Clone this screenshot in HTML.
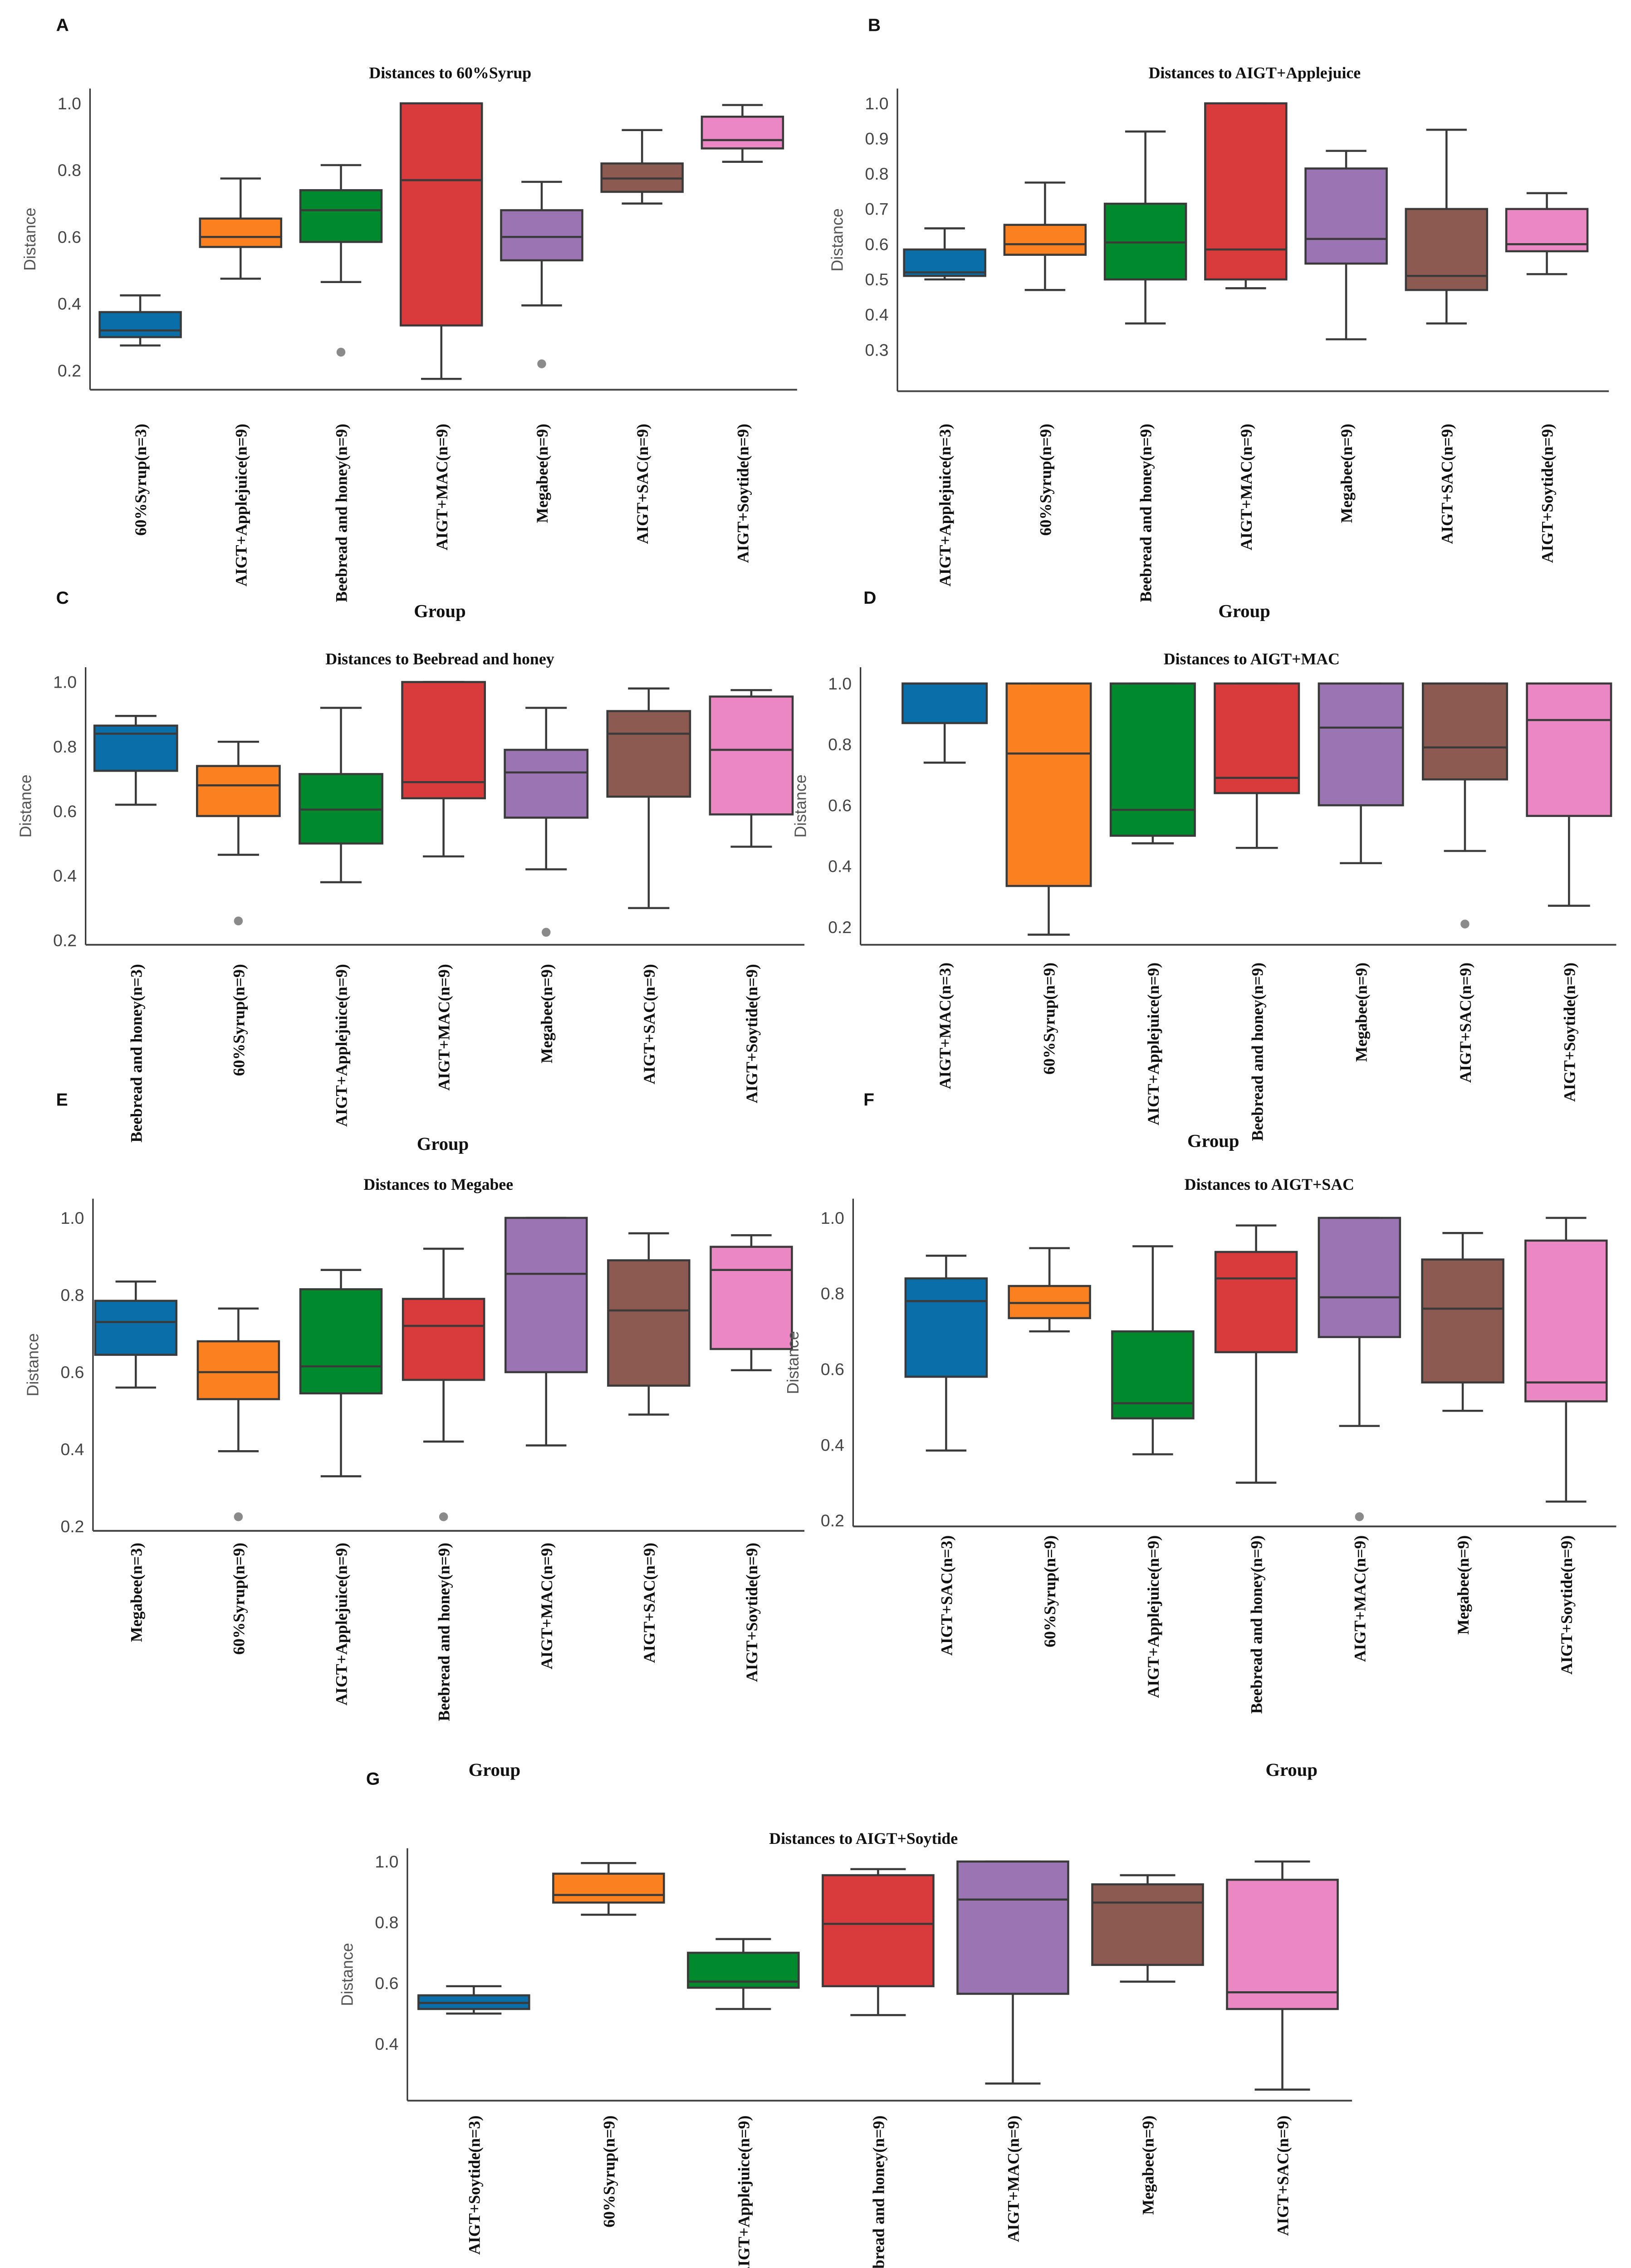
<!DOCTYPE html>
<html><head><meta charset="utf-8">
<style>
html,body{margin:0;padding:0;background:#fff;width:3595px;height:5103px;overflow:hidden;}
svg{display:block;overflow:hidden;}
.tick{font-family:"Liberation Sans",sans-serif;font-size:11.5px;fill:#444;}
.ttl{font-family:"Liberation Serif",serif;font-size:11px;font-weight:bold;fill:#111;}
.cat{font-family:"Liberation Serif",serif;font-size:11px;font-weight:bold;fill:#111;}
.grp{font-family:"Liberation Serif",serif;font-size:12.5px;font-weight:bold;fill:#111;}
.ylab{font-family:"Liberation Sans",sans-serif;font-size:11px;fill:#555;}
.let{font-family:"Liberation Sans",sans-serif;font-size:12px;font-weight:bold;fill:#111;}
</style></head>
<body>
<svg id="fig" width="3595" height="5103" viewBox="0 0 1105 1568" preserveAspectRatio="none" xmlns="http://www.w3.org/2000/svg"></svg>
<script>
// ---------- data ----------
const catsA = ["60%Syrup(n=3)","AIGT+Applejuice(n=9)","Beebread and honey(n=9)","AIGT+MAC(n=9)","Megabee(n=9)","AIGT+SAC(n=9)","AIGT+Soytide(n=9)"];
const lowA  = [0.275,0.475,0.465,0.175,0.395,0.70,0.825];
const q1A   = [0.30,0.57,0.585,0.335,0.53,0.735,0.865];
const medA  = [0.32,0.60,0.68,0.77,0.60,0.775,0.89];
const q3A   = [0.375,0.655,0.74,1.0,0.68,0.82,0.96];
const highA = [0.425,0.775,0.815,1.0,0.765,0.92,0.995];
const outA  = [[],[],[0.255],[],[0.22],[],[]];
const ticksA = [0.2,0.4,0.6,0.8,1.0];

const catsB = ["AIGT+Applejuice(n=3)","60%Syrup(n=9)","Beebread and honey(n=9)","AIGT+MAC(n=9)","Megabee(n=9)","AIGT+SAC(n=9)","AIGT+Soytide(n=9)"];
const lowB  = [0.50,0.47,0.375,0.475,0.33,0.375,0.515];
const q1B   = [0.51,0.57,0.50,0.50,0.545,0.47,0.58];
const medB  = [0.52,0.60,0.605,0.585,0.615,0.51,0.60];
const q3B   = [0.585,0.655,0.715,1.0,0.815,0.70,0.70];
const highB = [0.645,0.775,0.92,1.0,0.865,0.925,0.745];
const outB  = [[],[],[],[],[],[],[]];
const ticksB = [0.3,0.4,0.5,0.6,0.7,0.8,0.9,1.0];

const catsC = ["Beebread and honey(n=3)","60%Syrup(n=9)","AIGT+Applejuice(n=9)","AIGT+MAC(n=9)","Megabee(n=9)","AIGT+SAC(n=9)","AIGT+Soytide(n=9)"];
const lowC  = [0.62,0.465,0.38,0.46,0.42,0.30,0.49];
const q1C   = [0.725,0.585,0.50,0.64,0.58,0.645,0.59];
const medC  = [0.84,0.68,0.605,0.69,0.72,0.84,0.79];
const q3C   = [0.865,0.74,0.715,1.0,0.79,0.91,0.955];
const highC = [0.895,0.815,0.92,1.0,0.92,0.98,0.975];
const outC  = [[],[0.26],[],[],[0.225],[],[]];
const ticksC = [0.2,0.4,0.6,0.8,1.0];

const catsD = ["AIGT+MAC(n=3)","60%Syrup(n=9)","AIGT+Applejuice(n=9)","Beebread and honey(n=9)","Megabee(n=9)","AIGT+SAC(n=9)","AIGT+Soytide(n=9)"];
const lowD  = [0.74,0.175,0.475,0.46,0.41,0.45,0.27];
const q1D   = [0.87,0.335,0.50,0.64,0.60,0.685,0.565];
const medD  = [1.0,0.77,0.585,0.69,0.855,0.79,0.88];
const q3D   = [1.0,1.0,1.0,1.0,1.0,1.0,1.0];
const highD = [1.0,1.0,1.0,1.0,1.0,1.0,1.0];
const outD  = [[],[],[],[],[],[0.21],[]];
const ticksD = [0.2,0.4,0.6,0.8,1.0];

const catsE = ["Megabee(n=3)","60%Syrup(n=9)","AIGT+Applejuice(n=9)","Beebread and honey(n=9)","AIGT+MAC(n=9)","AIGT+SAC(n=9)","AIGT+Soytide(n=9)"];
const lowE  = [0.56,0.395,0.33,0.42,0.41,0.49,0.605];
const q1E   = [0.645,0.53,0.545,0.58,0.60,0.565,0.66];
const medE  = [0.73,0.60,0.615,0.72,0.855,0.76,0.865];
const q3E   = [0.785,0.68,0.815,0.79,1.0,0.89,0.925];
const highE = [0.835,0.765,0.865,0.92,1.0,0.96,0.955];
const outE  = [[],[0.225],[],[0.225],[],[],[]];
const ticksE = [0.2,0.4,0.6,0.8,1.0];

const catsF = ["AIGT+SAC(n=3)","60%Syrup(n=9)","AIGT+Applejuice(n=9)","Beebread and honey(n=9)","AIGT+MAC(n=9)","Megabee(n=9)","AIGT+Soytide(n=9)"];
const lowF  = [0.385,0.70,0.375,0.30,0.45,0.49,0.25];
const q1F   = [0.58,0.735,0.47,0.645,0.685,0.565,0.515];
const medF  = [0.78,0.775,0.51,0.84,0.79,0.76,0.565];
const q3F   = [0.84,0.82,0.70,0.91,1.0,0.89,0.94];
const highF = [0.90,0.92,0.925,0.98,1.0,0.96,1.0];
const outF  = [[],[],[],[],[0.21],[],[]];
const ticksF = [0.2,0.4,0.6,0.8,1.0];

const catsG = ["AIGT+Soytide(n=3)","60%Syrup(n=9)","AIGT+Applejuice(n=9)","Beebread and honey(n=9)","AIGT+MAC(n=9)","Megabee(n=9)","AIGT+SAC(n=9)"];
const lowG  = [0.50,0.825,0.515,0.495,0.27,0.605,0.25];
const q1G   = [0.515,0.865,0.585,0.59,0.565,0.66,0.515];
const medG  = [0.535,0.89,0.605,0.795,0.875,0.865,0.57];
const q3G   = [0.56,0.96,0.70,0.955,1.0,0.925,0.94];
const highG = [0.59,0.995,0.745,0.975,1.0,0.955,1.0];
const outG  = [[],[],[],[],[],[],[]];
const ticksG = [0.4,0.6,0.8,1.0];

const palette = ["#0a6ea8","#fb8120","#01892d","#d93a3c","#9b74b4","#8c5a50","#eb88c4"];

// ---------- layout (display units) ----------
const panels = [
 {id:"a",letter:"A",lx:38,ly:21,title:"Distances to 60%Syrup",tx:305,ty:53,left:61,right:540,top:60,axisY:264,v1:1.0,y1:70,v0:0.2,y0:251,x0:95,step:68,bw:55,labTop:287,gx:298,gy:418,
  cats:catsA,low:lowA,q1:q1A,med:medA,q3:q3A,high:highA,out:outA,ticks:ticksA,dec:1},
 {id:"b",letter:"B",lx:588,ly:21,title:"Distances to AIGT+Applejuice",tx:850,ty:53,left:608,right:1090,top:60,axisY:265,v1:1.0,y1:70,v0:0.3,y0:237,x0:640,step:68,bw:55,labTop:287,gx:843,gy:418,
  cats:catsB,low:lowB,q1:q1B,med:medB,q3:q3B,high:highB,out:outB,ticks:ticksB,dec:1},
 {id:"c",letter:"C",lx:38,ly:409,title:"Distances to Beebread and honey",tx:298,ty:450,left:58,right:545,top:452,axisY:640,v1:1.0,y1:462,v0:0.2,y0:637,x0:92,step:69.5,bw:56,labTop:653,gx:300,gy:779,
  cats:catsC,low:lowC,q1:q1C,med:medC,q3:q3C,high:highC,out:outC,ticks:ticksC,dec:1},
 {id:"d",letter:"D",lx:585,ly:409,title:"Distances to AIGT+MAC",tx:848,ty:450,left:583,right:1095,top:452,axisY:640,v1:1.0,y1:463,v0:0.2,y0:628,x0:640,step:70.5,bw:57,labTop:652,gx:822,gy:777,
  cats:catsD,low:lowD,q1:q1D,med:medD,q3:q3D,high:highD,out:outD,ticks:ticksD,dec:1},
 {id:"e",letter:"E",lx:38,ly:749,title:"Distances to Megabee",tx:297,ty:806,left:63,right:545,top:812,axisY:1037,v1:1.0,y1:825,v0:0.2,y0:1034,x0:92,step:69.5,bw:55,labTop:1045,gx:335,gy:1203,
  cats:catsE,low:lowE,q1:q1E,med:medE,q3:q3E,high:highE,out:outE,ticks:ticksE,dec:1},
 {id:"f",letter:"F",lx:585,ly:749,title:"Distances to AIGT+SAC",tx:860,ty:806,left:578,right:1095,top:812,axisY:1034,v1:1.0,y1:825,v0:0.2,y0:1030,x0:641,step:70,bw:55,labTop:1040,gx:875,gy:1203,
  cats:catsF,low:lowF,q1:q1F,med:medF,q3:q3F,high:highF,out:outF,ticks:ticksF,dec:1},
 {id:"g",letter:"G",lx:248,ly:1209,title:"Distances to AIGT+Soytide",tx:585,ty:1249,left:276,right:916,top:1252,axisY:1423,v1:1.0,y1:1261,v0:0.4,y0:1384.6,x0:321,step:91.3,bw:75,labTop:1433,gx:640,gy:1555,
  cats:catsG,low:lowG,q1:q1G,med:medG,q3:q3G,high:highG,out:outG,ticks:ticksG,dec:1}
];

const NS = "http://www.w3.org/2000/svg";
const svg = document.getElementById("fig");
function mk(tag, attrs, parent){
  const e = document.createElementNS(NS, tag);
  for (const k in attrs) e.setAttribute(k, attrs[k]);
  (parent||svg).appendChild(e);
  return e;
}

panels.forEach(p => {
  const g = mk("g", {});
  
  
  const yS = v => p.y0 + (v - p.v0) * (p.y1 - p.y0) / (p.v1 - p.v0);
  const xS = i => p.x0 + i * p.step;

  const L = mk("text", {x:p.lx, y:p.ly, class:"let"}, g);
  L.textContent = p.letter;
  
  

  const T = mk("text", {x:p.tx, y:p.ty, class:"ttl", "text-anchor":"middle"}, g);
  T.textContent = p.title;
  
  

  const ya = mk("line", {x1:p.left, y1:p.top, x2:p.left, y2:p.axisY, stroke:"#333", "stroke-width":1}, g);
  
  
  const xa = mk("line", {x1:p.left, y1:p.axisY, x2:p.right, y2:p.axisY, stroke:"#444", "stroke-width":1.2}, g);
  
  

  p.ticks.forEach(t => {
    const tl = mk("text", {x:p.left - 6, y:yS(t) + 4, class:"tick", "text-anchor":"end"}, g);
    tl.textContent = t.toFixed(p.dec);
    
    
  });

  const ylx = p.left - 37, yly = (p.top + p.axisY) / 2;
  const yl = mk("text", {x:ylx, y:yly, class:"ylab", "text-anchor":"middle", transform:"rotate(-90 " + ylx + " " + yly + ")"}, g);
  yl.textContent = "Distance";
  
  

  p.cats.forEach((c, i) => {
    const cx = xS(i), hw = p.bw / 2, cap = p.bw / 4;
    const col = palette[i];
    const bg = mk("g", {}, g);
    
    
    const st = {stroke:"#3a3a3a", "stroke-width":1.4};
    mk("line", Object.assign({x1:cx, y1:yS(p.high[i]), x2:cx, y2:yS(p.q3[i])}, st), bg);
    mk("line", Object.assign({x1:cx, y1:yS(p.q1[i]), x2:cx, y2:yS(p.low[i])}, st), bg);
    mk("line", Object.assign({x1:cx-cap, y1:yS(p.high[i]), x2:cx+cap, y2:yS(p.high[i])}, st), bg);
    mk("line", Object.assign({x1:cx-cap, y1:yS(p.low[i]), x2:cx+cap, y2:yS(p.low[i])}, st), bg);
    mk("rect", Object.assign({x:cx-hw, y:yS(p.q3[i]), width:p.bw, height:Math.max(0.5, yS(p.q1[i]) - yS(p.q3[i])), fill:col}, st), bg);
    mk("line", Object.assign({x1:cx-hw, y1:yS(p.med[i]), x2:cx+hw, y2:yS(p.med[i])}, st), bg);
    p.out[i].forEach(o => {
      const d = mk("circle", {cx:cx, cy:yS(o), r:3, fill:"#8a8a8a"}, bg);
      
      
    });
    const lx = cx + 4, ly = p.labTop;
    const lab = mk("text", {x:lx, y:ly, class:"cat", "text-anchor":"end", transform:"rotate(-90 " + lx + " " + ly + ")"}, g);
    lab.textContent = c;
    
    
  });

  const gr = mk("text", {x:p.gx, y:p.gy, class:"grp", "text-anchor":"middle"}, g);
  gr.textContent = "Group";
  
  
});
</script>
</body></html>
